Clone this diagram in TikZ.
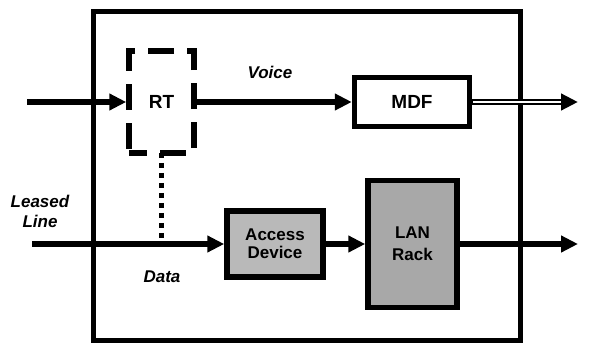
\documentclass[tikz,border=0pt]{standalone}
\usepackage{fontspec}
\setmainfont{Liberation Sans}
\usetikzlibrary{arrows.meta}
\begin{document}
\begin{tikzpicture}[x=1pt,y=-1pt,
  thick line/.style={line width=5.5pt},
  box/.style={draw,line width=5.5pt,inner sep=0pt,font=\bfseries\fontsize{19}{21}\selectfont},
  lbl/.style={font=\bfseries\itshape\fontsize{17}{20}\selectfont,align=center,inner sep=0pt},
  arr/.style={thick line,-{Triangle[length=17pt,width=16pt]}}]
\useasboundingbox (0,0) rectangle (591,345);
% outer enclosure
\node[draw,line width=5pt,minimum width=427pt,minimum height=328pt,inner sep=0pt] (encl) at (306.5,176) {};
% boxes
\node[box,dash pattern=on 26pt off 13pt,dash phase=8pt,minimum width=65pt,minimum height=102pt] (rt) at (161.5,102) {RT};
\node[box,minimum width=115pt,minimum height=49pt] (mdf) at (412,102) {MDF};
\node[box,fill=gray!55,minimum width=96pt,minimum height=66pt,align=center,font=\bfseries\fontsize{17}{18}\selectfont] (acc) at (275,244) {Access\\Device};
\node[box,fill=gray!68,minimum width=89pt,minimum height=127pt,align=center,font=\bfseries\fontsize{17}{22}\selectfont] (lan) at (412.5,244) {LAN\\Rack};
% free ends
\coordinate (vin) at (27,102);
\coordinate (vout) at (578,102);
\coordinate (din) at (32,244);
\coordinate (dout) at (578,244);
\coordinate (dj) at (rt.south |- din);
% connectors
\draw[arr] (vin) -- (rt.west);
\draw[arr] (rt.east) -- (mdf.west);
\draw[line width=5.5pt,-{Triangle[length=17pt,width=16pt]}] (mdf.east) -- (vout);
\draw[white,line width=1.5pt] ([xshift=1pt]mdf.east) -- ([xshift=-17pt]vout);
\draw[arr] (din) -- (acc.west);
\draw[arr] (acc.east) -- (lan.west);
\draw[arr] (lan.east) -- (dout);
\draw[line width=5pt,dash pattern=on 5pt off 5pt] ([yshift=3pt]rt.south) -- (dj);
% labels
\node[lbl] (voice) at (270,72) {Voice};
\node[lbl] (leased) at (40,211) {Leased\\Line};
\node[lbl] (data) at (162,277) {Data};
\end{tikzpicture}
\end{document}
